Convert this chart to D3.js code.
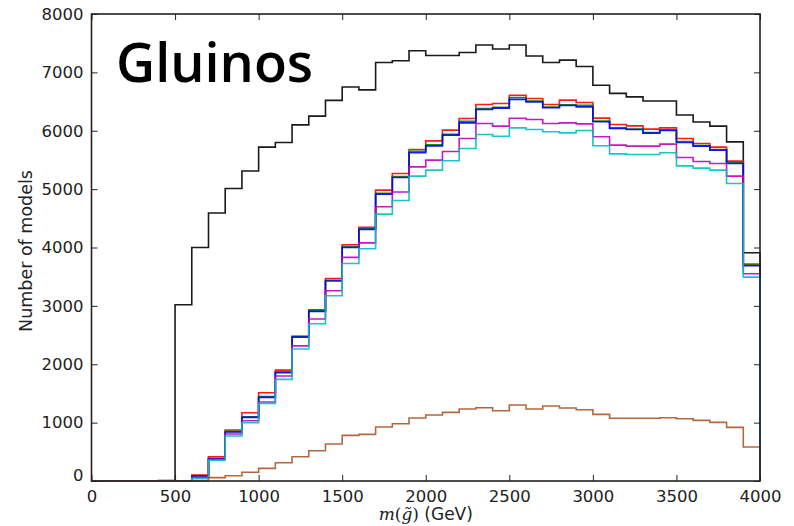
<!DOCTYPE html>
<html>
<head>
<meta charset="utf-8">
<script src="https://cdn.jsdelivr.net/npm/d3@7"></script>
<style>
  body{margin:0;background:#fff;}
  #chart{width:794px;height:526px;}
  .tick text{font-family:"DejaVu Sans",sans-serif;font-size:16.5px;fill:#222;}
</style>
</head>
<body>
<div id="chart"></div>
<script>
// histogram bins, 100 GeV wide, 0..4000 GeV
let binWidth=100;
let xTicks=[0,500,1000,1500,2000,2500,3000,3500,4000];
let yTicks=[0,1000,2000,3000,4000,5000,6000,7000,8000];

let black=[0,0,0,0,6, 3020,4000,4590,5010,5310, 5720,5800,6100,6250,6520,
  6750,6700,7170,7200,7370, 7290,7290,7340,7470,7400, 7470,7280,7170,7210,7100,
  6780,6640,6580,6510,6510, 6270,6150,6080,5810,3910];
let red=[0,0,0,0,0, 0,100,416,873,1170, 1512,1900,2480,2933,3470,
  4046,4344,4983,5268,5680, 5827,6010,6210,6450,6467, 6607,6553,6450,6524,6484,
  6216,6108,6084,6027,6050, 5868,5782,5719,5479,3716];
let green=[0,0,0,0,0, 0,90,390,850,1100, 1445,1870,2475,2915,3440,
  4015,4320,4930,5215,5650, 5760,5940,6160,6380,6400, 6570,6510,6405,6445,6435,
  6165,6050,6030,5970,6015, 5815,5745,5680,5455,3700];
let blue=[0,0,0,0,0, 0,85,382,839,1090, 1433,1855,2465,2905,3425,
  4001,4310,4914,5200,5622, 5741,5925,6135,6364,6387, 6538,6495,6393,6433,6409,
  6153,6039,6022,5959,6005, 5799,5736,5668,5440,3687];
let magenta=[0,0,0,0,0, 0,60,370,805,1033, 1353,1798,2315,2774,3258,
  3830,4080,4697,4950,5382, 5497,5645,5868,6125,6079, 6213,6193,6125,6135,6118,
  5896,5753,5736,5736,5771, 5543,5474,5440,5223,3550];
let cyan=[0,0,0,0,0, 0,40,355,770,998, 1330,1741,2262,2694,3173,
  3727,3978,4572,4806,5223, 5325,5485,5697,5937,5907, 6050,6022,5982,5964,6005,
  5742,5604,5594,5594,5622, 5399,5359,5325,5097,3493];
let brown=[0,0,0,0,0, 0,0,57,91,149, 217,313,416,519,634,
  782,799,925,982,1079, 1130,1176,1233,1256,1204, 1301,1233,1284,1250,1221,
  1142,1074,1074,1074,1084, 1067,1039,1005,919,582];

let series=[
  {name:"all",values:black,color:"#000000"},
  {name:"red",values:red,color:"#ff0000"},
  {name:"green",values:green,color:"#008000"},
  {name:"blue",values:blue,color:"#0000ff"},
  {name:"magenta",values:magenta,color:"#bf00bf"},
  {name:"cyan",values:cyan,color:"#00bfbf"},
  {name:"brown",values:brown,color:"#a8582a"}
];

(function(){
  let margin={top:14,right:34,bottom:45,left:91.5};
  let W=794,H=526;
  let width=W-margin.left-margin.right;
  let height=H-margin.top-margin.bottom;
  let svg=d3.select("#chart").append("svg")
      .attr("width",W).attr("height",H);
  let g=svg.append("g")
      .attr("transform","translate("+margin.left+","+margin.top+")");

  let x=d3.scaleLinear().domain([0,4000]).range([0,width]);
  let y=d3.scaleLinear().domain([0,8000]).range([height,0]);

  // step path: rises from the baseline at 0, falls back at 4000
  function stepPoints(values){
    let pts=[[0,0]];
    values.forEach(function(v,i){pts.push([i*binWidth,v]);});
    pts.push([values.length*binWidth,values[values.length-1]]);
    pts.push([values.length*binWidth,0]);
    return pts;
  }
  let line=d3.line()
      .x(function(d){return x(d[0]);})
      .y(function(d){return y(d[1]);})
      .curve(d3.curveStepAfter);

  series.forEach(function(s){
    g.append("path")
      .datum(stepPoints(s.values))
      .attr("fill","none")
      .attr("stroke",s.color)
      .attr("stroke-width",1.6)
      .attr("stroke-opacity",0.9)
      .attr("d",line);
  });

  // axes, ticks pointing inwards like matplotlib classic
  let fmt=d3.format("d");
  let ax=g.append("g").attr("transform","translate(0,"+height+")")
      .call(d3.axisBottom(x).tickValues(xTicks).tickFormat(fmt).tickSizeInner(-6).tickSizeOuter(0).tickPadding(9));
  let axTop=g.append("g")
      .call(d3.axisTop(x).tickValues(xTicks).tickSizeInner(-6).tickSizeOuter(0).tickFormat(""));
  let ay=g.append("g")
      .call(d3.axisLeft(y).tickValues(yTicks).tickFormat(fmt).tickSizeInner(-6).tickSizeOuter(0).tickPadding(8));
  let ayR=g.append("g").attr("transform","translate("+width+",0)")
      .call(d3.axisRight(y).tickValues(yTicks).tickSizeInner(-6).tickSizeOuter(0).tickFormat(""));
  [ax,axTop,ay,ayR].forEach(function(a){
    a.select(".domain").remove();
    a.selectAll(".tick line").attr("stroke","#222").attr("stroke-width",1);
  });
  // y "0" label sits a bit higher
  ay.selectAll(".tick text").filter(function(d){return d===0;}).attr("dy","-0.05em");

  g.append("rect")
    .attr("width",width).attr("height",height)
    .attr("fill","none").attr("stroke","#222").attr("stroke-width",1.6);

  // axis titles
  svg.append("text")
    .attr("transform","translate(32,251) rotate(-90)")
    .attr("text-anchor","middle")
    .style("font-family","DejaVu Sans, sans-serif")
    .style("font-size","17.5px")
    .style("fill","#222")
    .text("Number of models");

  let xl=svg.append("text")
    .attr("x",margin.left+width/2).attr("y",H-6)
    .attr("text-anchor","middle")
    .style("font-size","17px")
    .style("fill","#222");
  xl.append("tspan").style("font-family","DejaVu Serif, serif").style("font-style","italic").text("m");
  xl.append("tspan").style("font-family","DejaVu Serif, serif").text("(");
  xl.append("tspan").style("font-family","DejaVu Serif, serif").style("font-style","italic").text("g\u0303");
  xl.append("tspan").style("font-family","DejaVu Serif, serif").text(")");
  xl.append("tspan").style("font-family","DejaVu Sans, sans-serif").text(" (GeV)");

  // big title
  svg.append("text")
    .attr("x",116).attr("y",82)
    .style("font-family","Open Sans, sans-serif")
    .style("font-weight","600")
    .style("font-size","54px")
    .style("fill","#000")
    .text("Gluinos");
})();
</script>
</body>
</html>
